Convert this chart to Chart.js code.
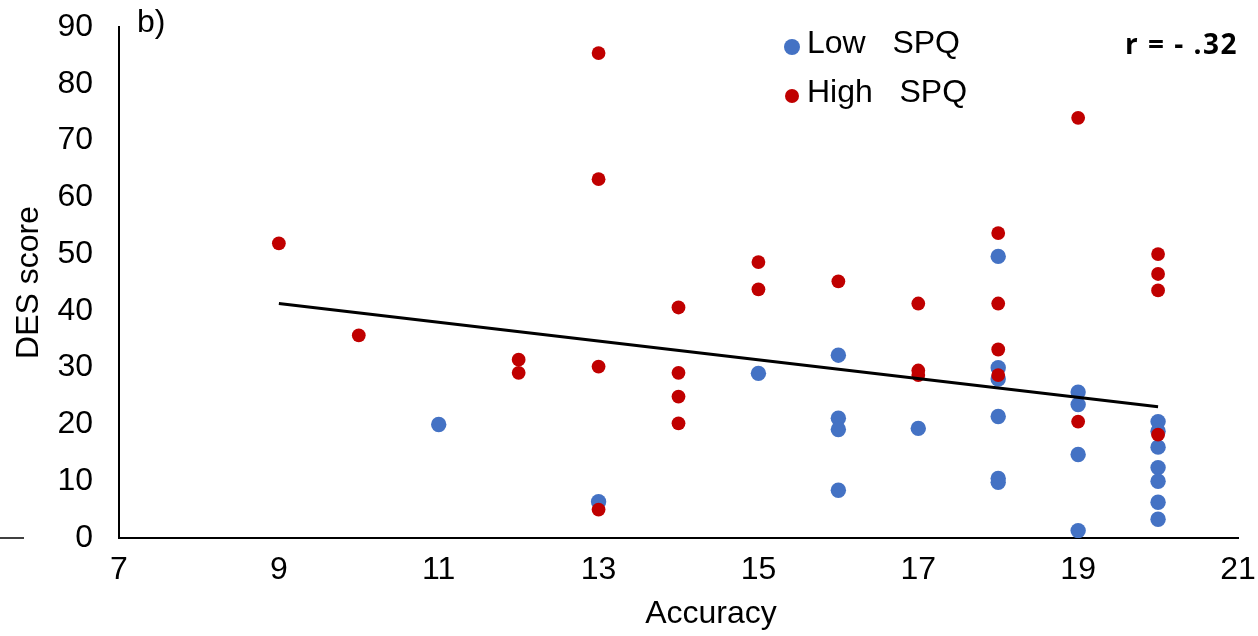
<!DOCTYPE html>
<html>
<head>
<meta charset="utf-8">
<script src="https://cdn.jsdelivr.net/npm/chart.js@4.4.0/dist/chart.umd.min.js"></script>
<style>
html, body { margin: 0; padding: 0; background: #fff; }
#wrap { width: 1258px; height: 636px; position: relative; }
</style>
</head>
<body>
<div id="wrap"><canvas id="scatterChart"></canvas></div>
<script>
'use strict';

// Low SPQ group (blue)
var lowAccuracy = [11, 13, 15, 16, 16, 16, 16, 17, 18, 18, 18, 18, 18, 18, 19, 19, 19, 19, 20, 20, 20, 20, 20, 20, 20];
var lowDes = [20.0, 6.4, 29.0, 32.2, 21.1, 19.1, 8.4, 19.3, 49.6, 30.0, 28.0, 21.4, 10.5, 9.8, 25.7, 23.5, 14.7, 1.3, 20.5, 18.8, 16.0, 12.4, 10.0, 6.3, 3.3];

// High SPQ group (red)
var highAccuracy = [9, 10, 12, 12, 13, 13, 13, 13, 14, 14, 14, 14, 15, 15, 16, 17, 17, 17, 18, 18, 18, 18, 19, 19, 20, 20, 20, 20];
var highDes = [51.9, 35.7, 31.4, 29.1, 85.4, 63.2, 30.2, 5.0, 40.6, 29.1, 24.9, 20.2, 48.6, 43.8, 45.2, 41.3, 29.5, 28.7, 53.7, 41.3, 33.2, 28.7, 74.0, 20.5, 50.0, 46.5, 43.6, 18.2];

// trend line end points
var trendAccuracy = [9, 20];
var trendDes = [41.3, 23.1];

var xTicks = [7, 9, 11, 13, 15, 17, 19, 21];
var yTicks = [0, 10, 20, 30, 40, 50, 60, 70, 80, 90];

var legendLabels = ['Low   SPQ', 'High   SPQ'];
var corrLabel = 'r = - .32';
var panelLabel = 'b)';
var xTitle = 'Accuracy';

var BLUE = '#4472C4';
var RED = '#C00000';
var FONT = "'Liberation Sans', Arial, Helvetica, sans-serif";

function toPoints(xs, ys) {
    var pts = [];
    for (var i = 0; i < xs.length; ++i) {
        pts.push({ x: xs[i], y: ys[i] });
    }
    return pts;
}

// keep tick labels from pushing the plot area around
function noScalePadding(scale) {
    scale.paddingTop = 0;
    scale.paddingBottom = 0;
    scale.paddingLeft = 0;
    scale.paddingRight = 0;
}

var extrasPlugin = {
    id: 'extras',
    afterDraw: function (chart) {
        var ctx = chart.ctx;
        var area = chart.chartArea;
        var yZero = chart.scales.y.getPixelForValue(0);
        ctx.save();

        // stray dash at far left
        ctx.strokeStyle = '#000';
        ctx.lineWidth = 1.5;
        ctx.beginPath();
        ctx.moveTo(0, yZero);
        ctx.lineTo(24, yZero);
        ctx.stroke();

        ctx.fillStyle = '#000';
        ctx.textBaseline = 'alphabetic';
        ctx.textAlign = 'left';
        ctx.font = '32px ' + FONT;
        ctx.fillText(panelLabel, area.left + 18, 32);

        // x axis title sits a bit right of centre in the original
        ctx.textAlign = 'center';
        ctx.fillText(xTitle, 711, 623);
        ctx.textAlign = 'left';

        // legend
        var legendColors = [BLUE, RED];
        var legendRadius = [8, 7];
        var legendBase = [53, 102];
        for (var i = 0; i < legendLabels.length; ++i) {
            ctx.fillStyle = legendColors[i];
            ctx.beginPath();
            ctx.arc(792, legendBase[i] - 6, legendRadius[i], 0, Math.PI * 2);
            ctx.fill();
            ctx.fillStyle = '#000';
            ctx.fillText(legendLabels[i], 807, legendBase[i]);
        }

        ctx.textAlign = 'right';
        ctx.font = "bold 28px 'Open Sans', " + FONT;
        ctx.letterSpacing = '1.5px';
        ctx.fillText(corrLabel, area.right, 54);
        ctx.restore();
    }
};

var ctx = document.getElementById('scatterChart').getContext('2d');
var scatterChart = new Chart(ctx, {
    type: 'scatter',
    data: {
        datasets: [
            {
                type: 'line',
                label: 'trend',
                data: toPoints(trendAccuracy, trendDes),
                borderColor: '#000',
                borderWidth: 3,
                pointRadius: 0,
                fill: false,
                order: 0
            },
            {
                label: 'High SPQ',
                data: toPoints(highAccuracy, highDes),
                backgroundColor: RED,
                borderWidth: 0,
                pointRadius: 6.9,
                order: 1
            },
            {
                label: 'Low SPQ',
                data: toPoints(lowAccuracy, lowDes),
                backgroundColor: BLUE,
                borderWidth: 0,
                pointRadius: 7.7,
                order: 2
            }
        ]
    },
    options: {
        responsive: true,
        maintainAspectRatio: false,
        animation: false,
        events: [],
        layout: { padding: { top: 27, right: 20, bottom: 0, left: 0 } },
        plugins: {
            legend: { display: false },
            tooltip: { enabled: false }
        },
        scales: {
            x: {
                type: 'linear',
                min: xTicks[0],
                max: xTicks[xTicks.length - 1],
                afterBuildTicks: function (scale) {
                    scale.ticks = xTicks.map(function (v) { return { value: v }; });
                },
                afterFit: function (scale) {
                    scale.height = 98;
                    noScalePadding(scale);
                },
                grid: { display: false, drawTicks: false },
                border: { display: true, color: '#000', width: 2 },
                ticks: { color: '#000', padding: 13, font: { size: 32, family: FONT } }
            },
            y: {
                type: 'linear',
                min: yTicks[0],
                max: yTicks[yTicks.length - 1],
                afterBuildTicks: function (scale) {
                    scale.ticks = yTicks.map(function (v) { return { value: v }; });
                },
                afterFit: function (scale) {
                    scale.width = 119;
                    noScalePadding(scale);
                },
                grid: { display: false, drawTicks: false },
                border: { display: true, color: '#000', width: 2 },
                ticks: { color: '#000', padding: 26, font: { size: 32, family: FONT } },
                title: {
                    display: true,
                    text: 'DES score',
                    color: '#000',
                    font: { size: 32, family: FONT },
                    padding: { top: 10, bottom: 0 }
                }
            }
        }
    },
    plugins: [extrasPlugin]
});
</script>
</body>
</html>
